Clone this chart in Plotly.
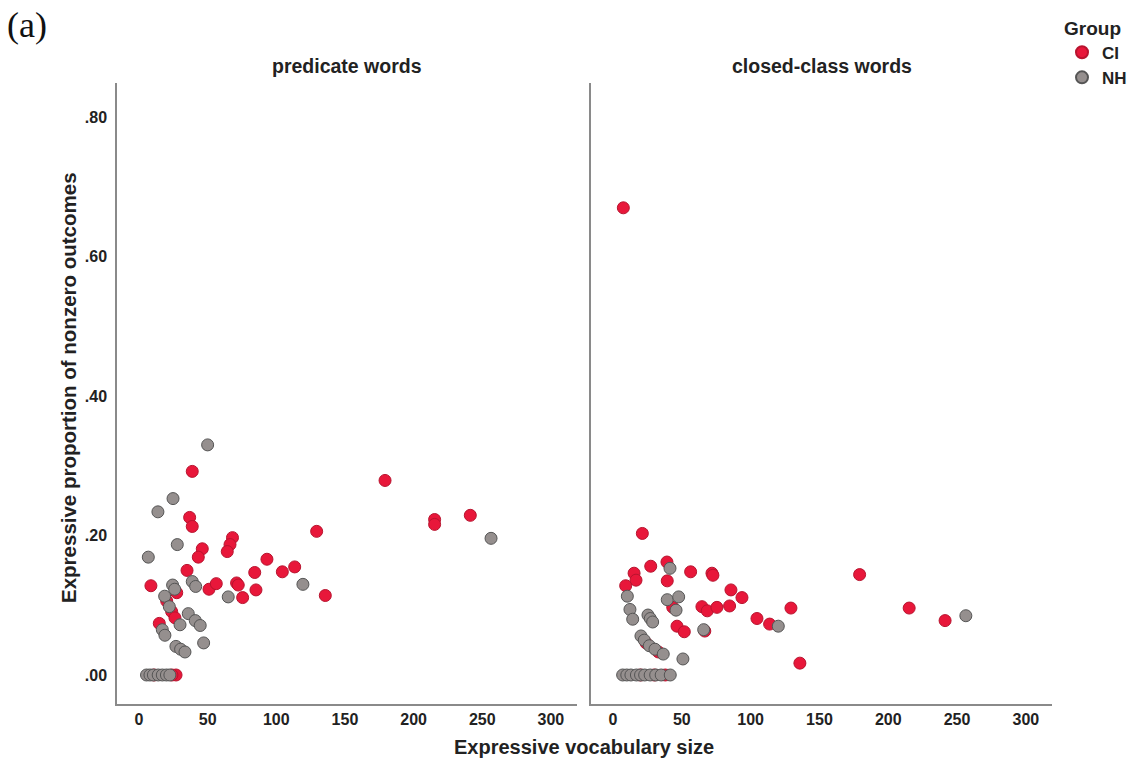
import plotly.graph_objects as go

# ---- data: predicate words panel ----
pred_ci_x = [38.8, 36.9, 38.8, 68.1, 66.3, 64.3, 46.1, 43.2, 129.4, 93.2, 84.3, 104.4, 113.4, 135.7,
             35.0, 8.7, 27.5, 51.0, 56.3, 71.1, 72.3, 75.5, 85.2, 20.2, 23.8, 26.2, 14.8,
             179.2, 215.3, 215.3, 241.3, 27.0, 24.0, 11.0]
pred_ci_y = [0.292, 0.226, 0.213, 0.197, 0.187, 0.177, 0.181, 0.169, 0.206, 0.166, 0.147, 0.148, 0.155, 0.114,
             0.150, 0.128, 0.118, 0.123, 0.131, 0.132, 0.129, 0.111, 0.122, 0.106, 0.091, 0.082, 0.074,
             0.279, 0.223, 0.216, 0.229, 0.0, 0.0, 0.0]
pred_nh_x = [50.0, 24.8, 13.8, 27.9, 6.8, 24.5, 26.0, 38.8, 41.3, 65.0, 18.7, 22.1, 29.9, 35.9, 41.0,
             44.6, 17.0, 18.9, 47.1, 26.9, 30.3, 33.5, 119.4, 256.4,
             5.5, 8.0, 10.5, 14.0, 17.0, 20.0, 22.5]
pred_nh_y = [0.330, 0.253, 0.234, 0.187, 0.169, 0.129, 0.123, 0.134, 0.127, 0.112, 0.113, 0.098, 0.072, 0.088, 0.078,
             0.071, 0.065, 0.057, 0.046, 0.041, 0.037, 0.033, 0.130, 0.196,
             0.0, 0.0, 0.0, 0.0, 0.0, 0.0, 0.0]

# ---- data: closed-class words panel ----
closed_ci_x = [7.5, 21.3, 27.4, 39.2, 15.3, 16.7, 9.2, 39.4, 56.4, 71.9, 72.6, 85.7, 93.7, 129.3,
               43.4, 64.6, 68.5, 75.5, 84.7, 104.6, 113.8, 46.5, 51.8, 66.7, 179.2, 215.2, 241.3, 135.8,
               24.0, 33.0, 38.0, 20.0, 30.0]
closed_ci_y = [0.670, 0.203, 0.156, 0.162, 0.146, 0.136, 0.128, 0.135, 0.148, 0.146, 0.143, 0.122, 0.111, 0.096,
               0.097, 0.098, 0.092, 0.097, 0.099, 0.081, 0.073, 0.070, 0.062, 0.063, 0.144, 0.096, 0.078, 0.017,
               0.046, 0.033, 0.0, 0.0, 0.0]
closed_nh_x = [41.4, 10.4, 39.4, 47.7, 45.8, 120.1, 12.3, 14.3, 25.4, 27.1, 28.8, 65.9, 20.3, 22.7, 26.4,
               30.5, 36.5, 50.8, 256.4,
               7.0, 10.0, 13.0, 17.0, 20.0, 23.0, 27.0, 31.0, 35.0, 41.6]
closed_nh_y = [0.153, 0.113, 0.108, 0.112, 0.093, 0.070, 0.094, 0.080, 0.086, 0.081, 0.076, 0.065, 0.056, 0.050, 0.042,
               0.037, 0.030, 0.023, 0.085,
               0.0, 0.0, 0.0, 0.0, 0.0, 0.0, 0.0, 0.0, 0.0, 0.0]

panel_titles = ["predicate words", "closed-class words"]
y_tickvals = [0.0, 0.2, 0.4, 0.6, 0.8]
y_ticktext = [".00", ".20", ".40", ".60", ".80"]
x_tickvals = [0, 50, 100, 150, 200, 250, 300]

CI_FILL = "#E8173A"
CI_LINE = "#B8142F"
NH_FILL = "#958F8E"
NH_LINE = "#555555"
FONT = "Liberation Sans, Arial, sans-serif"
TXT = "#222222"

fig = go.Figure()


def add_group(x, y, xa, ya, name, fill, line, show):
    fig.add_trace(go.Scatter(
        x=x, y=y, mode="markers", name=name, xaxis=xa, yaxis=ya,
        legendgroup=name, showlegend=show,
        marker=dict(size=12, color=fill, line=dict(color=line, width=1)),
    ))


add_group(pred_ci_x, pred_ci_y, "x", "y", "CI", CI_FILL, CI_LINE, True)
add_group(pred_nh_x, pred_nh_y, "x", "y", "NH", NH_FILL, NH_LINE, True)
add_group(closed_ci_x, closed_ci_y, "x2", "y2", "CI", CI_FILL, CI_LINE, False)
add_group(closed_nh_x, closed_nh_y, "x2", "y2", "NH", NH_FILL, NH_LINE, False)

W, H = 1130, 761
ML, MR, MT, MB = 117, 78, 83, 57
pw = W - ML - MR
ph = H - MT - MB

xrange_ = [-16, 319]
yrange_ = [-0.0416, 0.849]

axis_common = dict(showgrid=False, zeroline=False, showline=True, linecolor="#8a8a8a",
                   linewidth=1.5, ticks="", mirror=False)
tickfont = dict(family=FONT, size=16, color=TXT, weight="bold")

fig.update_layout(
    width=W, height=H,
    margin=dict(l=ML, r=MR, t=MT, b=MB, autoexpand=False),
    paper_bgcolor="white", plot_bgcolor="white",
    font=dict(family=FONT, color=TXT),
    xaxis=dict(domain=[0, (577 - ML) / pw], range=xrange_, tickvals=x_tickvals,
               tickfont=tickfont, anchor="y", **axis_common),
    xaxis2=dict(domain=[(591 - ML) / pw, 1], range=xrange_, tickvals=x_tickvals,
                tickfont=tickfont, anchor="y2", **axis_common),
    yaxis=dict(domain=[0, 1], range=yrange_, tickvals=y_tickvals, ticktext=y_ticktext,
               tickfont=tickfont, anchor="x", ticklabelstandoff=5, **axis_common),
    yaxis2=dict(domain=[0, 1], range=yrange_, tickvals=y_tickvals, showticklabels=False,
                anchor="x2", **axis_common),
    legend=dict(
        title=dict(text="Group", font=dict(family=FONT, size=19, weight="bold", color=TXT)),
        font=dict(family=FONT, size=17, weight="bold", color=TXT),
        x=(1062 - ML) / pw, xanchor="left", y=(H - MB - 10) / ph, yanchor="top",
        itemsizing="constant", bgcolor="rgba(0,0,0,0)", tracegroupgap=0,
    ),
)

x1c = ((577 - ML) / pw) / 2
x2c = ((591 - ML) / pw + 1) / 2
for xc, t in zip([x1c, x2c], panel_titles):
    fig.add_annotation(text=t, xref="paper", yref="paper", x=xc, y=(H - MB - 66) / ph,
                       xanchor="center", yanchor="middle", showarrow=False,
                       font=dict(family=FONT, size=19.5, weight="bold", color=TXT))

fig.add_annotation(text="Expressive proportion of nonzero outcomes", xref="paper", yref="paper",
                   x=(68 - ML) / pw, y=(H - MB - 388) / ph, textangle=-90,
                   xanchor="center", yanchor="middle", showarrow=False,
                   font=dict(family=FONT, size=20.5, weight="bold", color=TXT))
fig.add_annotation(text="Expressive vocabulary size", xref="paper", yref="paper",
                   x=(584 - ML) / pw, y=(H - MB - 747) / ph,
                   xanchor="center", yanchor="middle", showarrow=False,
                   font=dict(family=FONT, size=20, weight="bold", color=TXT))
fig.add_annotation(text="(a)", xref="paper", yref="paper",
                   x=(5 - ML) / pw, y=(H - MB - 25) / ph,
                   xanchor="left", yanchor="middle", showarrow=False,
                   font=dict(family="Liberation Serif, Times New Roman, serif", size=36, color="#111111"))

fig.write_html("out.html")
